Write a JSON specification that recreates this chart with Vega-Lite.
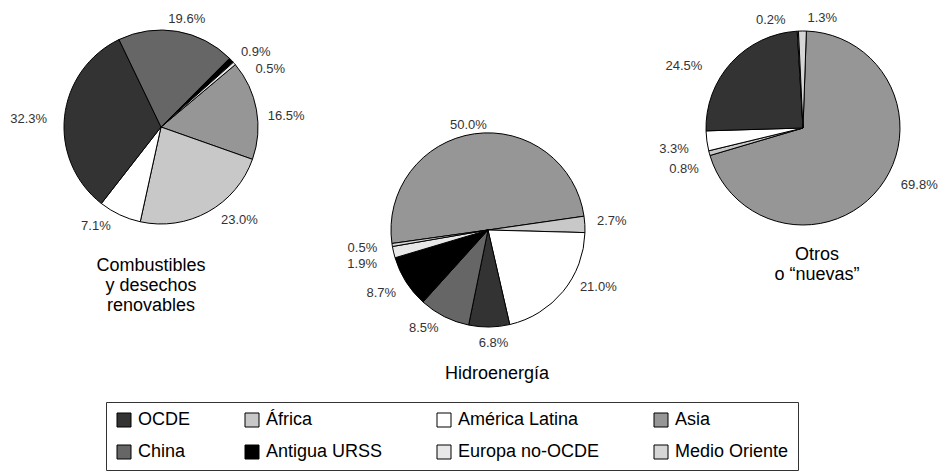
{
  "$schema": "https://vega.github.io/schema/vega-lite/v6.json",
  "padding": {"left": 10, "top": 0, "right": 0, "bottom": 0},
  "spacing": 10,
  "bounds": "flush",
  "config": {
    "view": {"stroke": null},
    "font": "Liberation Sans",
    "title": {"font": "Liberation Sans", "fontSize": 18, "fontWeight": "normal", "color": "#000", "lineHeight": 20, "baseline": "top"},
    "legend": {"symbolType": "square", "symbolSize": 196, "symbolStrokeColor": "#000", "symbolStrokeWidth": 1, "symbolOpacity": 1, "labelFont": "Liberation Sans", "labelFontSize": 18, "labelColor": "#000", "labelLimit": 400, "labelOffset": 5, "columnPadding": 52, "rowPadding": 14, "padding": 9, "strokeColor": "#333", "fillColor": "#fff", "gridAlign": "each", "direction": "horizontal"}
  },
  "hconcat": [
    {
      "width": 280,
      "height": 254,
      "title": {"text": ["Combustibles", "y desechos", "renovables"], "orient": "bottom", "offset": 3, "dx": -10},
      "data": {"values": [
        {"region": "Asia", "value": 0.165, "orden": 1},
        {"region": "África", "value": 0.230, "orden": 2},
        {"region": "América Latina", "value": 0.071, "orden": 3},
        {"region": "OCDE", "value": 0.323, "orden": 4},
        {"region": "China", "value": 0.196, "orden": 5},
        {"region": "Antigua URSS", "value": 0.009, "orden": 6},
        {"region": "Europa no-OCDE", "value": 0.005, "orden": 7}
      ]},
      "encoding": {
        "theta": {"field": "value", "type": "quantitative", "stack": true, "scale": {"range": [0.8727, 7.1559]}},
        "order": {"field": "orden", "type": "quantitative"}
      },
      "layer": [
        {
          "mark": {"type": "arc", "outerRadius": 97, "stroke": "#000", "strokeWidth": 1},
          "encoding": {
            "color": {"field": "region", "type": "nominal",
              "scale": {"domain": ["OCDE", "África", "América Latina", "Asia", "China", "Antigua URSS", "Europa no-OCDE", "Medio Oriente"], "range": ["#333333", "#c8c8c8", "#ffffff", "#969696", "#666666", "#000000", "#e8e8e8", "#d6d6d6"]},
              "legend": {"orient": "none", "legendX": 85, "legendY": 402, "columns": 4, "direction": "horizontal", "title": null}}
          }
        },
        {
          "mark": {"type": "text", "radius": 118, "align": "center", "baseline": "middle", "fill": "#333", "fontSize": 13, "font": "Liberation Sans",
            "dx": {"expr": "datum.region==='Asia'?9:datum.region==='África'?21:datum.region==='América Latina'?-15:datum.region==='OCDE'?-15:datum.region==='China'?6:datum.region==='Antigua URSS'?9:datum.region==='Europa no-OCDE'?20:0"},
            "dy": {"expr": "datum.region==='Asia'?10:datum.region==='África'?-10:datum.region==='América Latina'?-8:datum.region==='OCDE'?5:datum.region==='China'?8:datum.region==='Antigua URSS'?6:datum.region==='Europa no-OCDE'?19:0"}},
          "encoding": {
            "detail": {"field": "region", "type": "nominal"},
            "text": {"field": "value", "type": "quantitative", "format": ".1%"}
          }
        }
      ]
    },
    {
      "width": 354,
      "height": 460,
      "title": {"text": "Hidroenergía", "orient": "bottom", "offset": -95, "dx": 9},
      "data": {"values": [
        {"region": "Asia", "value": 0.500, "orden": 1},
        {"region": "África", "value": 0.027, "orden": 2},
        {"region": "América Latina", "value": 0.210, "orden": 3},
        {"region": "OCDE", "value": 0.068, "orden": 4},
        {"region": "China", "value": 0.085, "orden": 5},
        {"region": "Antigua URSS", "value": 0.087, "orden": 6},
        {"region": "Europa no-OCDE", "value": 0.019, "orden": 7},
        {"region": "Medio Oriente", "value": 0.005, "orden": 8}
      ]},
      "encoding": {
        "theta": {"field": "value", "type": "quantitative", "stack": true, "scale": {"range": [4.5728, 10.856]}},
        "order": {"field": "orden", "type": "quantitative"}
      },
      "layer": [
        {
          "mark": {"type": "arc", "outerRadius": 97, "stroke": "#000", "strokeWidth": 1},
          "encoding": {
            "color": {"field": "region", "type": "nominal",
              "scale": {"domain": ["OCDE", "África", "América Latina", "Asia", "China", "Antigua URSS", "Europa no-OCDE", "Medio Oriente"], "range": ["#333333", "#c8c8c8", "#ffffff", "#969696", "#666666", "#000000", "#e8e8e8", "#d6d6d6"]},
              "legend": {"orient": "none", "legendX": 85, "legendY": 402, "columns": 4, "direction": "horizontal", "title": null}}
          }
        },
        {
          "mark": {"type": "text", "radius": 118, "align": "center", "baseline": "middle", "fill": "#333", "fontSize": 13, "font": "Liberation Sans",
            "dx": {"expr": "datum.region==='Asia'?-3:datum.region==='África'?6:datum.region==='América Latina'?19:datum.region==='OCDE'?4:datum.region==='China'?-11:datum.region==='Antigua URSS'?-7:datum.region==='Europa no-OCDE'?-11:datum.region==='Medio Oriente'?-9:0"},
            "dy": {"expr": "datum.region==='Asia'?12:datum.region==='África'?-2:datum.region==='América Latina'?-18:datum.region==='OCDE'?-5:datum.region==='China'?-7:datum.region==='Antigua URSS'?0:datum.region==='Europa no-OCDE'?7:datum.region==='Medio Oriente'?0:0"}},
          "encoding": {
            "detail": {"field": "region", "type": "nominal"},
            "text": {"field": "value", "type": "quantitative", "format": ".1%"}
          }
        }
      ]
    },
    {
      "width": 256,
      "height": 256,
      "title": {"text": ["Otros", "o “nuevas”"], "orient": "bottom", "offset": -10, "dx": 14},
      "data": {"values": [
        {"region": "Asia", "value": 0.698, "orden": 1},
        {"region": "África", "value": 0.008, "orden": 2},
        {"region": "América Latina", "value": 0.033, "orden": 3},
        {"region": "OCDE", "value": 0.245, "orden": 4},
        {"region": "Europa no-OCDE", "value": 0.002, "orden": 7},
        {"region": "Medio Oriente", "value": 0.013, "orden": 8}
      ]},
      "encoding": {
        "theta": {"field": "value", "type": "quantitative", "stack": true, "scale": {"range": [0.0349, 6.3181]}},
        "order": {"field": "orden", "type": "quantitative"}
      },
      "layer": [
        {
          "mark": {"type": "arc", "outerRadius": 97, "stroke": "#000", "strokeWidth": 1},
          "encoding": {
            "color": {"field": "region", "type": "nominal",
              "scale": {"domain": ["OCDE", "África", "América Latina", "Asia", "China", "Antigua URSS", "Europa no-OCDE", "Medio Oriente"], "range": ["#333333", "#c8c8c8", "#ffffff", "#969696", "#666666", "#000000", "#e8e8e8", "#d6d6d6"]},
              "legend": {"orient": "none", "legendX": 85, "legendY": 402, "columns": 4, "direction": "horizontal", "title": null}}
          }
        },
        {
          "mark": {"type": "text", "radius": 118, "align": "center", "baseline": "middle", "fill": "#333", "fontSize": 13, "font": "Liberation Sans",
            "dx": {"expr": "datum.region==='Asia'?23:datum.region==='África'?-5:datum.region==='América Latina'?-12:datum.region==='OCDE'?-32:datum.region==='Europa no-OCDE'?-26:datum.region==='Medio Oriente'?20:0"},
            "dy": {"expr": "datum.region==='Asia'?-15:datum.region==='África'?10:datum.region==='América Latina'?5:datum.region==='OCDE'?18:datum.region==='Europa no-OCDE'?10:datum.region==='Medio Oriente'?8:0"}},
          "encoding": {
            "detail": {"field": "region", "type": "nominal"},
            "text": {"field": "value", "type": "quantitative", "format": ".1%"}
          }
        }
      ]
    }
  ]
}
